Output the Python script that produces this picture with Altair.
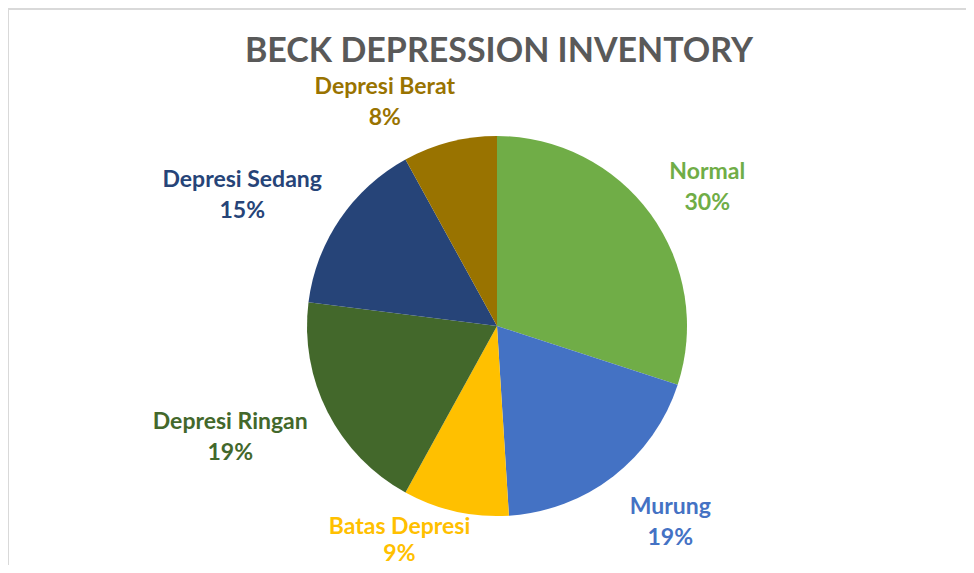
import altair as alt
import pandas as pd

# ---- data ----
categories = ["Normal", "Murung", "Batas Depresi", "Depresi Ringan", "Depresi Sedang", "Depresi Berat"]
values = [30, 19, 9, 19, 15, 8]
colors = ["#70AD47", "#4472C4", "#FFC000", "#43682B", "#264478", "#997300"]
title_text = "BECK DEPRESSION INVENTORY"

# ---- style / layout ----
W, H = 958, 557
CX, CY = 489, 318
R = 190
LABEL_R = 250
LABEL_NUDGE = {
    "Normal": (8, -7),
    "Murung": (20, -17),
    "Batas Depresi": (-43, -43),
    "Depresi Ringan": (-44, -17),
    "Depresi Sedang": (-48, -5),
    "Depresi Berat": (-50, 3),
}
LINE_H = {"Batas Depresi": 27}
FONT = "Lato"

df = pd.DataFrame({"category": categories, "value": values, "order": list(range(len(categories)))})
df["label"] = [f"{c}\n{v}%" for c, v in zip(categories, values)]

theta_scale = alt.Scale(domain=[0, sum(values)])
color = alt.Color("category:N", scale=alt.Scale(domain=categories, range=colors), legend=None)

pie = alt.Chart(df).mark_arc(outerRadius=R).encode(
    theta=alt.Theta("value:Q", stack=True, scale=theta_scale),
    order=alt.Order("order:Q"),
    color=color,
    x=alt.value(CX),
    y=alt.value(CY),
)

layers = [pie]
for cat in categories:
    dx, dy = LABEL_NUDGE[cat]
    t = (
        alt.Chart(df)
        .transform_stack(stack="value", groupby=[], as_=["v0", "v1"], sort=[alt.SortField("order")])
        .transform_calculate(mid="(datum.v0 + datum.v1) / 2")
        .transform_filter(alt.datum.category == cat)
        .mark_text(
            radius=LABEL_R, dx=dx, dy=dy, font=FONT, fontSize=23, fontWeight="bold",
            lineBreak="\n", lineHeight=LINE_H.get(cat, 31),
            align="center", baseline="middle",
        )
        .encode(
            theta=alt.Theta("mid:Q", scale=theta_scale),
            text="label:N",
            color=color,
            x=alt.value(CX),
            y=alt.value(CY),
        )
    )
    layers.append(t)

title_mark = alt.Chart(pd.DataFrame({"t": [title_text]})).mark_text(
    font=FONT, fontSize=34, fontWeight="bold", color="#595959",
    align="center", baseline="alphabetic",
).encode(text="t:N", x=alt.value(CX + 2), y=alt.value(54))
layers.append(title_mark)

border_df = pd.DataFrame({"k": [0]})
left_border = alt.Chart(border_df).mark_rule(color="#d9d9d9", strokeWidth=2).encode(
    x=alt.value(0), y=alt.value(0), y2=alt.value(H)
)
top_border = alt.Chart(border_df).mark_rule(color="#d9d9d9", strokeWidth=2).encode(
    x=alt.value(0), x2=alt.value(W), y=alt.value(1)
)
layers += [left_border, top_border]

chart = (
    alt.layer(*layers)
    .properties(
        width=W,
        height=H,
        autosize=alt.AutoSizeParams(type="none"),
        padding=0,
    )
    .configure_view(stroke=None)
)

chart.save("out.html", embed_options={"renderer": "svg", "actions": False})
